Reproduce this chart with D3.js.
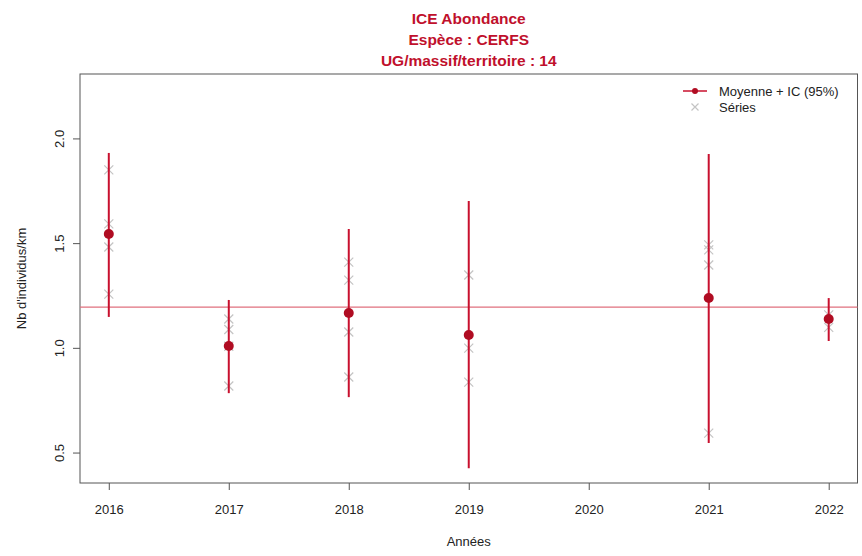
<!DOCTYPE html>
<html><head><meta charset="utf-8">
<script src="https://cdn.jsdelivr.net/npm/d3@7"></script>
<style>body{margin:0;background:#fff}svg{display:block}</style>
</head><body>
<script>
const years = [2016, 2017, 2018, 2019, 2021, 2022];
const means = [1.546, 1.011, 1.169, 1.064, 1.240, 1.140];
const ciLow = [1.150, 0.786, 0.767, 0.428, 0.548, 1.035];
const ciHigh = [1.933, 1.231, 1.570, 1.704, 1.928, 1.240];
const series = [
  [1.852, 1.594, 1.484, 1.259],
  [1.140, 1.090, 1.010, 0.820],
  [1.412, 1.326, 1.078, 0.863],
  [1.350, 1.001, 0.839],
  [1.494, 1.470, 1.398, 0.595],
  [1.160, 1.100]
];
const overallMean = 1.197;
const xTicks = [2016, 2017, 2018, 2019, 2020, 2021, 2022];
const yTicks = [0.5, 1.0, 1.5, 2.0];
const titleLines = ["ICE Abondance", "Espèce : CERFS", "UG/massif/territoire : 14"];
const legendLabels = ["Moyenne + IC (95%)", "Séries"];

const W = 862, H = 556;
const box = {l: 80, r: 857.5, t: 74, b: 483};
const red = "#c8102e", dark = "#b00c22", grey = "#c4c4c4", axisCol = "#555";
const sans = "'Liberation Sans', Arial, Helvetica, sans-serif";

const svg = d3.select("body").append("svg").attr("width", W).attr("height", H);
const x = d3.scaleLinear().domain([2015.76, 2022.24]).range([box.l, box.r]);
const y = d3.scaleLinear().domain([0.357, 2.31]).range([box.b, box.t]);

// plot box
svg.append("rect").attr("x", box.l).attr("y", box.t).attr("width", box.r - box.l).attr("height", box.b - box.t)
  .attr("fill", "none").attr("stroke", axisCol).attr("stroke-width", 1);

// axes
const xAxis = svg.append("g").attr("transform", `translate(0,${box.b})`)
  .call(d3.axisBottom(x).tickValues(xTicks).tickFormat(d3.format("d")).tickSize(7).tickPadding(15));
xAxis.select(".domain").remove();
xAxis.selectAll("line").attr("stroke", axisCol);
xAxis.selectAll("text").attr("font-family", sans).attr("font-size", 13).attr("fill", "#222");

const yAxis = svg.append("g").attr("transform", `translate(${box.l},0)`)
  .call(d3.axisLeft(y).tickValues(yTicks).tickFormat(d3.format(".1f")).tickSize(7));
yAxis.select(".domain").remove();
yAxis.selectAll("line").attr("stroke", axisCol);
yAxis.selectAll("text").attr("font-family", sans).attr("font-size", 13).attr("fill", "#222")
  .attr("transform", null).attr("x", null).attr("dy", null)
  .each(function(d){
    d3.select(this).attr("text-anchor", "middle")
      .attr("transform", `translate(-21,${y(d)}) rotate(-90)`).attr("y", 0).attr("dy", "0.35em");
  });
yAxis.selectAll(".tick").attr("transform", "translate(0,0)");
yAxis.selectAll(".tick line").each(function(d){ d3.select(this).attr("y1", y(d)).attr("y2", y(d)); });

// axis titles
svg.append("text").attr("x", (box.l + box.r) / 2).attr("y", 546).attr("text-anchor", "middle")
  .attr("font-family", sans).attr("font-size", 13).attr("fill", "#222").text("Années");
svg.append("text").attr("transform", `translate(26,${(box.t + box.b) / 2}) rotate(-90)`).attr("text-anchor", "middle")
  .attr("font-family", sans).attr("font-size", 13).attr("fill", "#222").text("Nb d'individus/km");

// title
svg.selectAll(".title").data(titleLines).enter().append("text")
  .attr("x", (box.l + box.r) / 2).attr("y", (d, i) => 24 + i * 21).attr("text-anchor", "middle")
  .attr("font-family", sans).attr("font-weight", "bold").attr("font-size", 15.5).attr("fill", "#c0102c").text(d => d);

// overall mean line
svg.append("line").attr("x1", box.l).attr("x2", box.r).attr("y1", y(overallMean)).attr("y2", y(overallMean))
  .attr("stroke", "#e0707e").attr("stroke-width", 1.2);

// series crosses
const cs = 4.5;
years.forEach((yr, i) => {
  series[i].forEach(v => {
    const cx = x(yr), cy = y(v);
    svg.append("path").attr("d", `M${cx-cs},${cy-cs}L${cx+cs},${cy+cs}M${cx-cs},${cy+cs}L${cx+cs},${cy-cs}`)
      .attr("stroke", grey).attr("stroke-width", 1.2).attr("fill", "none");
  });
});

// CI segments
svg.selectAll(".ci").data(years).enter().append("line")
  .attr("x1", d => x(d)).attr("x2", d => x(d))
  .attr("y1", (d, i) => y(ciLow[i])).attr("y2", (d, i) => y(ciHigh[i]))
  .attr("stroke", red).attr("stroke-width", 2);

// means
svg.selectAll(".mean").data(years).enter().append("circle")
  .attr("cx", d => x(d)).attr("cy", (d, i) => y(means[i])).attr("r", 5)
  .attr("fill", dark);

// legend
const lg = svg.append("g");
lg.append("line").attr("x1", 683).attr("x2", 707).attr("y1", 91).attr("y2", 91).attr("stroke", red).attr("stroke-width", 1.5);
lg.append("circle").attr("cx", 695).attr("cy", 91).attr("r", 3).attr("fill", dark);
lg.append("path").attr("d", `M${695-3.5},${107-3.5}L${695+3.5},${107+3.5}M${695-3.5},${107+3.5}L${695+3.5},${107-3.5}`)
  .attr("stroke", grey).attr("stroke-width", 1.2);
lg.selectAll("text").data(legendLabels).enter().append("text")
  .attr("x", 719).attr("y", (d, i) => 91 + i * 16).attr("dy", "0.35em")
  .attr("font-family", sans).attr("font-size", 13).attr("fill", "#222").text(d => d);
</script>
</body></html>
